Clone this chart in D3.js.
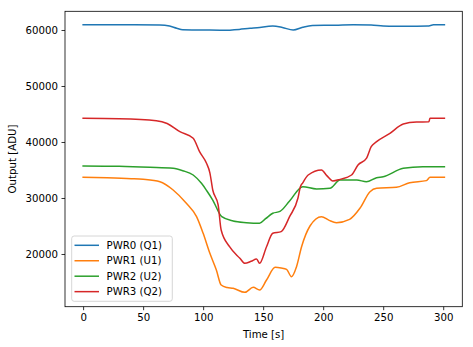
<!DOCTYPE html>
<html><head><meta charset="utf-8">
<script src="https://cdn.jsdelivr.net/npm/d3@7"></script>
<style>body{margin:0;background:#fff}svg{display:block}</style>
</head><body>
<svg id="c" width="473" height="347"></svg>
<script>
const seriesNames = ["PWR0 (Q1)", "PWR1 (U1)", "PWR2 (U2)", "PWR3 (Q2)"];
const seriesColors = ["#1f77b4", "#ff7f0e", "#2ca02c", "#d62728"];
const xTicks = [0, 50, 100, 150, 200, 250, 300];
const yTicks = [20000, 30000, 40000, 50000, 60000];

const t0 = [0, 20, 40, 64, 72, 78, 83, 100, 116, 130, 139, 145, 158, 166, 175, 183, 191, 210, 225, 240, 250, 260, 275, 287, 292, 301];
const v0 = [60950, 60940, 60920, 60900, 60700, 60300, 60050, 60000, 59950, 60100, 60300, 60400, 60700, 60450, 60000, 60500, 60800, 60850, 60950, 60900, 60700, 60650, 60680, 60720, 60920, 60940];

const t1 = [0, 20, 40, 50, 64, 75, 86, 94.5, 100, 105.6, 111, 115, 120, 125, 134.7, 141.7, 147, 152.8, 160, 165, 169.5, 173.6, 177.8, 182, 189, 198.6, 205, 211, 222, 230.6, 239, 244.5, 261, 272, 286, 289, 301];
const v1 = [33690, 33600, 33450, 33330, 32910, 31430, 29050, 26670, 23690, 20120, 17140, 14460, 14000, 13870, 13150, 14050, 13570, 15360, 17620, 17500, 17260, 15950, 17740, 21300, 25000, 26670, 26000, 25600, 26190, 28160, 31130, 31730, 31900, 32740, 33100, 33690, 33690];

const t2 = [0, 30, 55.6, 75, 83, 91.7, 98.6, 103, 108, 115.5, 125, 136, 147, 152, 158, 164, 172, 183, 194.5, 205.6, 214, 228, 236, 244.5, 250, 266.7, 283, 301];
const v2 = [35714, 35650, 35480, 35300, 34880, 34110, 32620, 31300, 29640, 26670, 25900, 25600, 25480, 26300, 27270, 27600, 29450, 32020, 31610, 31730, 33210, 33210, 32910, 33630, 33800, 35300, 35590, 35600];

const t3 = [0, 30, 61, 70, 80.6, 91.7, 97, 102.8, 105.6, 108, 112.5, 115, 122, 130.6, 134.7, 140, 144.5, 147, 152.8, 158, 165, 172, 179, 181, 183, 187.5, 198.6, 203, 208, 214, 223.6, 229, 236, 240, 244.5, 255.6, 266.7, 277.8, 288, 289, 301];
const v3 = [44232, 44150, 43800, 43300, 41840, 40660, 38270, 36190, 34500, 31430, 28750, 24290, 21300, 19230, 18330, 18700, 19110, 18330, 21300, 23700, 23990, 26660, 30000, 32000, 32700, 34110, 35000, 34000, 33040, 33330, 34110, 35890, 37080, 39170, 40060, 41550, 43210, 43570, 43600, 44230, 44230];

const times = [t0, t1, t2, t3];
const values = [v0, v1, v2, v3];

const svg = d3.select("#c");
const L = 65, R = 462.3, T = 11.3, B = 306.7;
const x = d3.scaleLinear().domain([-15.1, 315.9]).range([L, R]);
const y = d3.scaleLinear().domain([10589, 63339]).range([B, T]);
const font = "DejaVu Sans, sans-serif";
const fs = 10.2;

const line = d3.line().x(d => x(d[0])).y(d => y(d[1])).curve(d3.curveMonotoneX);
times.forEach((ts, i) => {
  const pts = ts.map((t, j) => [t, values[i][j]]);
  svg.append("path").attr("d", line(pts)).attr("fill", "none")
    .attr("stroke", seriesColors[i]).attr("stroke-width", 1.5)
    .attr("stroke-linejoin", "round").attr("stroke-linecap", "square");
});

const xAxis = svg.append("g").attr("transform", `translate(0,${B})`)
  .call(d3.axisBottom(x).tickValues(xTicks).tickSize(3.5).tickPadding(3.5).tickFormat(d3.format("d")));
const yAxis = svg.append("g").attr("transform", `translate(${L},0)`)
  .call(d3.axisLeft(y).tickValues(yTicks).tickSize(3.5).tickPadding(3.5).tickFormat(d3.format("d")));
[xAxis, yAxis].forEach(g => {
  g.select(".domain").remove();
  g.selectAll("line").attr("stroke", "#000").attr("stroke-width", 0.8);
  g.selectAll("text").attr("font-family", font).attr("font-size", fs).attr("fill", "#000");
});

svg.append("rect").attr("x", L).attr("y", T).attr("width", R - L).attr("height", B - T)
  .attr("fill", "none").attr("stroke", "#000").attr("stroke-width", 0.8);

svg.append("text").attr("x", (L + R) / 2).attr("y", 337.5).attr("text-anchor", "middle")
  .attr("font-family", font).attr("font-size", fs).text("Time [s]");
svg.append("text").attr("transform", `translate(15.5,${(T + B) / 2}) rotate(-90)`)
  .attr("text-anchor", "middle").attr("font-family", font).attr("font-size", fs).text("Output [ADU]");

const lg = svg.append("g");
lg.append("rect").attr("x", 71.7).attr("y", 236).attr("width", 100.6).attr("height", 65.3)
  .attr("rx", 2.5).attr("fill", "#fff").attr("fill-opacity", 0.8)
  .attr("stroke", "#cccccc").attr("stroke-width", 0.8);
seriesNames.forEach((n, i) => {
  const yy = 245.3 + i * 15.45;
  lg.append("line").attr("x1", 74.5).attr("x2", 99).attr("y1", yy).attr("y2", yy)
    .attr("stroke", seriesColors[i]).attr("stroke-width", 1.5);
  lg.append("text").attr("x", 106.5).attr("y", yy).attr("dy", "0.36em")
    .attr("font-family", font).attr("font-size", fs).text(n);
});
</script>
</body></html>
